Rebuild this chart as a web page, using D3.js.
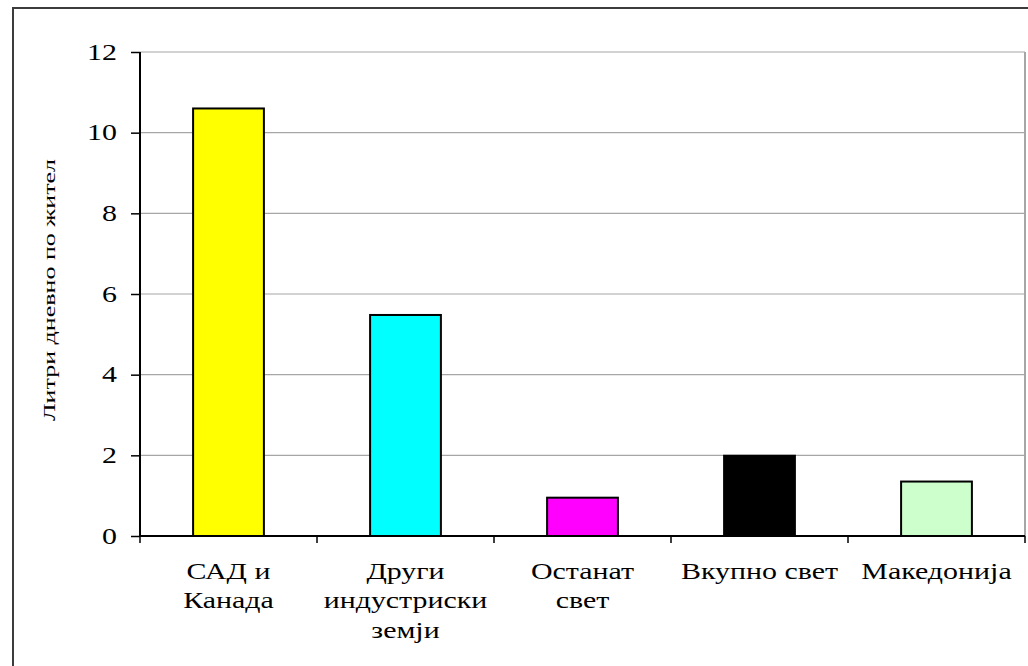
<!DOCTYPE html>
<html lang="mk">
<head>
<meta charset="UTF-8">
<title>Литри дневно по жител</title>
<script src="https://d3js.org/d3.v7.min.js"></script>
<style>
    body { margin: 0; background: #fff; overflow: hidden; }
</style>
</head>
<body>
<svg id="chart" width="1028" height="666"></svg>
<script>
    // data
    const categories = [["САД и", "Канада"], ["Други", "индустриски", "земји"], ["Останат", "свет"], ["Вкупно свет"], ["Македонија"]];
    const values = [10.6, 5.48, 0.95, 1.99, 1.35];
    const barColors = ["#ffff00", "#00ffff", "#ff00ff", "#000000", "#ccffcc"];
    const yTicks = [0, 2, 4, 6, 8, 10, 12];
    const yTitle = "Литри дневно по жител";

    const serif = "'Liberation Serif', 'Times New Roman', serif";
    const stretch = 1.33; // the original text is drawn wide

    const svg = d3.select("#chart");
    const margin = { top: 52, right: 3, bottom: 130, left: 140 };
    const W = +svg.attr("width"), H = +svg.attr("height");
    const plotW = W - margin.left - margin.right;
    const plotH = H - margin.top - margin.bottom;

    // outer chart frame (only left/top visible in the crop)
    svg.append("rect")
        .attr("x", 13).attr("y", 8)
        .attr("width", W + 10).attr("height", H + 10)
        .style("fill", "none").style("stroke", "#3c3c3c").style("stroke-width", 2);

    const g = svg.append("g").attr("transform", "translate(" + margin.left + "," + margin.top + ")");

    const x = d3.scaleBand().domain(d3.range(values.length)).range([0, plotW]);
    const y = d3.scaleLinear().domain([0, 12]).range([plotH, 0]);

    // gridlines
    g.selectAll(".grid")
        .data(yTicks.filter(d => d > 0))
        .join("line")
        .attr("class", "grid")
        .attr("x1", 0).attr("x2", plotW)
        .attr("y1", d => y(d)).attr("y2", d => y(d))
        .style("stroke", "#a6a6a6").style("stroke-width", 1.2);

    // plot-area right border
    g.append("line")
        .attr("x1", plotW).attr("x2", plotW)
        .attr("y1", 0).attr("y2", plotH)
        .style("stroke", "#a6a6a6").style("stroke-width", 2);

    // bars
    const barW = x.bandwidth() * 0.4;
    g.selectAll(".bar")
        .data(values)
        .join("rect")
        .attr("class", "bar")
        .attr("x", (d, i) => x(i) + (x.bandwidth() - barW) / 2)
        .attr("y", d => y(d))
        .attr("width", barW)
        .attr("height", d => plotH - y(d))
        .style("fill", (d, i) => barColors[i])
        .style("stroke", "#000").style("stroke-width", 2);

    // y axis
    const yAxis = g.append("g")
        .call(d3.axisLeft(y).tickValues(yTicks).tickSize(9).tickFormat(d3.format("d")));
    yAxis.select(".domain").style("stroke", "#000").style("stroke-width", 2).attr("d", "M0," + plotH + "V0");
    yAxis.selectAll(".tick line").style("stroke", "#000").style("stroke-width", 1.5);
    yAxis.selectAll(".tick text")
        .attr("x", 0)
        .attr("transform", "translate(-23,0) scale(" + stretch + ",1)")
        .style("font-family", serif)
        .style("font-size", "22.5px")
        .style("fill", "#000");

    // x axis: baseline and band ticks
    g.append("line")
        .attr("x1", 0).attr("x2", plotW)
        .attr("y1", plotH).attr("y2", plotH)
        .style("stroke", "#000").style("stroke-width", 2);
    g.selectAll(".xtick")
        .data(d3.range(values.length + 1))
        .join("line")
        .attr("class", "xtick")
        .attr("x1", d => d * x.step()).attr("x2", d => d * x.step())
        .attr("y1", plotH).attr("y2", plotH + 7)
        .style("stroke", "#000").style("stroke-width", 1.5);

    // category labels
    const lab = g.selectAll(".cat")
        .data(categories)
        .join("text")
        .attr("class", "cat")
        .attr("text-anchor", "middle")
        .attr("transform", (d, i) => "translate(" + (x(i) + x.bandwidth() / 2) + "," + (plotH + 43) + ") scale(" + stretch + ",1)")
        .style("font-family", serif)
        .style("font-size", "22.5px");
    lab.selectAll("tspan")
        .data(d => d)
        .join("tspan")
        .attr("x", 0)
        .attr("dy", (d, i) => i === 0 ? 0 : 29.5)
        .text(d => d);

    // y title, stretched along its length like the original
    svg.append("text")
        .attr("transform", "translate(55," + (margin.top + plotH / 2 - 4) + ") rotate(-90)")
        .attr("text-anchor", "middle")
        .attr("textLength", 262)
        .attr("lengthAdjust", "spacingAndGlyphs")
        .style("font-family", serif)
        .style("font-size", "17px")
        .text(yTitle);
</script>
</body>
</html>
